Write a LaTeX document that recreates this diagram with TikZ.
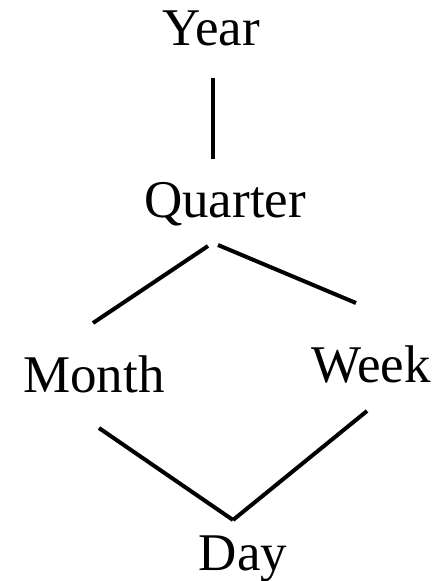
\documentclass[tikz,border=0pt]{standalone}
\usepackage{fontspec}
\setmainfont{Liberation Serif}

\tikzset{
  level/.style={anchor=base,inner sep=0pt,font=\fontsize{53}{64}\selectfont},
  link/.style={line width=4pt}
}

\begin{document}
\begin{tikzpicture}[x=1pt,y=-1pt]

\useasboundingbox (0,0) rectangle (442,581);

\node[level] (year) at (211,45) {Year};
\node[level] (quarter) at (225,217) {Quarter};
\node[level] (month) at (94,392) {Month};
\node[level] (week) at (371,382) {Week};
\node[level] (day) at (243,570) {Day};

\draw[link] ([shift={(2,33)}]year.base) -- ([shift={(-12,-58)}]quarter.base);

\draw[link] ([shift={(-17,29)}]quarter.base) -- ([shift={(-1,-69)}]month.base);
\draw[link] ([shift={(-7,28)}]quarter.base) -- ([shift={(-15,-79)}]week.base);

\draw[link] ([shift={(5,36)}]month.base) -- ([shift={(-10,-50)}]day.base);
\draw[link] ([shift={(-4,29)}]week.base) -- ([shift={(-10,-50)}]day.base);

\end{tikzpicture}
\end{document}
